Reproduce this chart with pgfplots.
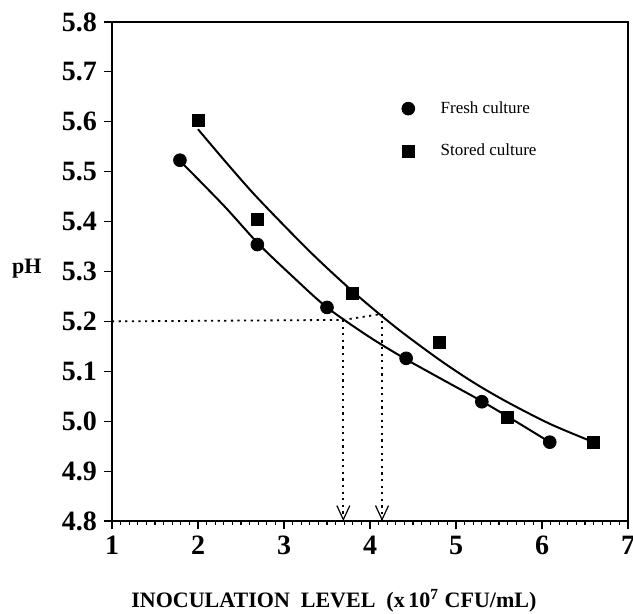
\documentclass[border=0pt]{standalone}
\usepackage{fontspec}
\setmainfont{Liberation Serif}
\usepackage{pgfplots}
\pgfplotsset{compat=1.18}
\usetikzlibrary{arrows.meta,calc}

\begin{document}
\begin{tikzpicture}
\begin{axis}[
    name=ax,
    width=258pt, height=249.5pt, scale only axis,
    xmin=1, xmax=7, ymin=4.8, ymax=5.8,
    xtick={1,2,3,4,5,6,7},
    ytick={4.8,4.9,5.0,5.1,5.2,5.3,5.4,5.5,5.6,5.7,5.8},
    minor x tick num=9,
    tick pos=left, tick align=outside,
    major tick length=4pt, minor tick length=2pt,
    axis line style={line width=1.3pt},
    every tick/.style={black, line width=0.6pt},
    /pgf/number format/assume math mode=true,
    ticklabel style={font=\bfseries\fontsize{14}{14}\selectfont},
    yticklabel style={/pgf/number format/.cd, fixed, fixed zerofill, precision=1},
    xlabel={INOCULATION\ \ LEVEL\ \ (x\,10$^{\mathbf{7}}$ CFU/mL)},
    xlabel style={font=\bfseries\fontsize{11}{11}\selectfont,
        at={(axis description cs:0.43,-0.159)}, anchor=center},
    ylabel={pH},
    ylabel style={font=\bfseries\fontsize{11}{11}\selectfont, rotate=-90,
        at={(axis description cs:-0.165,0.506)}, anchor=center},
    legend image code/.code={\draw[#1] plot coordinates {(0pt,0pt)};},
    legend style={draw=none, fill=none, inner sep=0pt,
        at={(axis description cs:0.561,0.85)}, anchor=north west,
        font=\fontsize{8.5}{8.5}\selectfont, row sep=10pt,
        /tikz/every odd column/.append style={column sep=11pt}},
    legend cell align=left,
]
% fitted curves
\addplot[line width=1pt, smooth, forget plot] coordinates {
    (1.80,5.520) (2.30,5.432) (2.70,5.356) (3.10,5.290) (3.50,5.228)
    (4.00,5.168) (4.42,5.124) (4.90,5.078) (5.30,5.040) (5.70,4.999) (6.09,4.958)
};
\addplot[line width=1pt, smooth, forget plot] coordinates {
    (2.00,5.585) (2.35,5.514) (2.70,5.446) (3.30,5.340) (3.80,5.260)
    (4.30,5.188) (4.80,5.124) (5.20,5.078) (5.60,5.038) (6.10,4.994) (6.60,4.958)
};
% reading lines at pH 5.2
\addplot[dash pattern=on 1.1pt off 2.2pt, line width=0.9pt, forget plot] coordinates {
    (1.00,5.200) (3.69,5.203) (4.14,5.215)
};
\addplot[dash pattern=on 1.1pt off 2.2pt, line width=0.9pt, forget plot,
    -{Straight Barb[length=7pt, width=6.5pt, line width=0.6pt]}] coordinates {
    (3.69,5.203) (3.69,4.80)
};
\addplot[dash pattern=on 1.1pt off 2.2pt, line width=0.9pt, forget plot,
    -{Straight Barb[length=7pt, width=6.5pt, line width=0.6pt]}] coordinates {
    (4.14,5.215) (4.14,4.80)
};
% measured points
\addplot[only marks, mark=*, mark size=3.2pt, black] coordinates {
    (1.79,5.523) (2.69,5.354) (3.50,5.228) (4.42,5.126) (5.30,5.039) (6.09,4.958)
};
\addlegendentry{Fresh culture}
\addplot[only marks, mark=square*, mark size=3pt, black] coordinates {
    (2.00,5.602) (2.69,5.405) (3.80,5.256) (4.81,5.158) (5.60,5.007) (6.60,4.958)
};
\addlegendentry{Stored culture}
\end{axis}
\pgfresetboundingbox
\path ($(ax.south west)+(-56pt,-46pt)$) rectangle ($(ax.north east)+(2.5pt,11pt)$);
\end{tikzpicture}
\end{document}
